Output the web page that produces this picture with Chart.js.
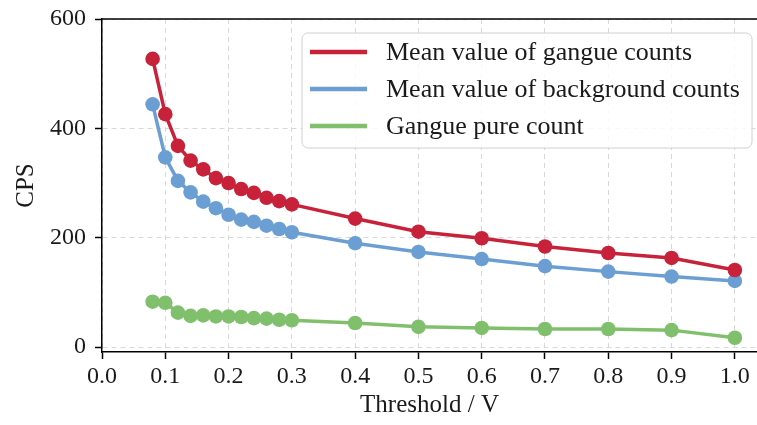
<!DOCTYPE html>
<html>
<head>
<meta charset="utf-8">
<script src="https://cdn.jsdelivr.net/npm/chart.js@4/dist/chart.umd.min.js"></script>
<style>
  html, body { margin: 0; padding: 0; background: #fff; }
  #wrap { width: 757px; height: 425px; }
</style>
</head>
<body>
<div id="wrap"><canvas id="cpsChart" width="757" height="425"></canvas></div>
<script>
// --- DATA ---
const thresholds = [0.08, 0.10, 0.12, 0.14, 0.16, 0.18, 0.20, 0.22, 0.24, 0.26, 0.28, 0.30, 0.4, 0.5, 0.6, 0.7, 0.8, 0.9, 1.0];
const gangueMean = [527, 426, 368, 341, 325, 309, 300, 289, 282, 273, 267, 261, 235, 211, 199, 184, 172, 163, 141];
const backgroundMean = [444, 347, 304, 283, 266, 254, 242, 233, 229, 222, 216, 210, 190, 174, 161, 148, 138, 129, 121];
const ganguePure = [83, 81, 63, 57, 58, 56, 56, 55, 53, 52, 50, 49, 44, 37, 35, 33, 33, 31, 17];
const xTicks = [0.0, 0.1, 0.2, 0.3, 0.4, 0.5, 0.6, 0.7, 0.8, 0.9, 1.0];
const yTicks = [0, 200, 400, 600];
const seriesNames = ['Mean value of gangue counts', 'Mean value of background counts', 'Gangue pure count'];
const seriesColors = ['#c8223a', '#6b9fd4', '#80c06d'];

const FONT = "'Liberation Serif', 'Times New Roman', serif";
const TEXT = '#1a1a1a';

function toPoints(vals) {
    return thresholds.map((x, i) => ({ x: x, y: vals[i] }));
}

const seriesValues = [gangueMean, backgroundMean, ganguePure];
const datasets = seriesValues.map((vals, i) => ({
    label: seriesNames[i],
    data: toPoints(vals),
    borderColor: seriesColors[i],
    backgroundColor: seriesColors[i],
    borderWidth: 3.5,
    pointRadius: 7.3,
    pointHoverRadius: 7.3,
    pointBorderWidth: 0,
    tension: 0
}));

// top spine + legend box in the upper right
const framePlugin = {
    id: 'frame',
    afterDraw(chart) {
        const { ctx, chartArea } = chart;
        ctx.save();
        ctx.strokeStyle = '#000';
        ctx.lineWidth = 1.5;
        ctx.beginPath();
        ctx.moveTo(chartArea.left, chartArea.top);
        ctx.lineTo(chartArea.right, chartArea.top);
        ctx.stroke();

        // legend
        const bx = 302, by = 33, bw = 450, bh = 115, r = 6;
        ctx.fillStyle = 'rgba(255,255,255,0.85)';
        ctx.strokeStyle = '#d0d0d0';
        ctx.lineWidth = 1;
        ctx.beginPath();
        ctx.roundRect(bx, by, bw, bh, r);
        ctx.fill();
        ctx.stroke();
        ctx.font = '26px ' + FONT;
        ctx.textBaseline = 'middle';
        ctx.fillStyle = TEXT;
        chart.data.datasets.forEach((ds, i) => {
            const yy = by + 19 + i * 37;
            ctx.strokeStyle = ds.borderColor;
            ctx.lineWidth = 4.5;
            ctx.beginPath();
            ctx.moveTo(bx + 8, yy);
            ctx.lineTo(bx + 65, yy);
            ctx.stroke();
            ctx.fillText(ds.label, bx + 84, yy + 1);
        });
        ctx.restore();
    }
};

new Chart(document.getElementById('cpsChart'), {
    type: 'line',
    data: { datasets: datasets },
    options: {
        responsive: false,
        animation: false,
        layout: { autoPadding: false, padding: { top: 19, right: 0, left: 0, bottom: 0 } },
        plugins: {
            legend: { display: false },
            tooltip: { enabled: false }
        },
        scales: {
            x: {
                type: 'linear',
                min: 0,
                max: 1.035,
                afterBuildTicks: axis => { axis.ticks = xTicks.map(v => ({ value: v })); },
                afterFit: axis => {
                    axis.height = 73;
                    axis.paddingRight = 0;
                    axis.paddingLeft = 0;
                },
                ticks: {
                    color: TEXT,
                    font: { family: FONT, size: 24 },
                    padding: 3,
                    maxRotation: 0,
                    callback: v => v.toFixed(1)
                },
                grid: { color: '#d8d8d8', lineWidth: 1, tickColor: '#000', tickLength: 7, tickWidth: 1.5 },
                border: { display: true, color: '#000', width: 1.5, dash: [5, 4] },
                title: { display: true, text: 'Threshold / V', color: TEXT, font: { family: FONT, size: 25 }, padding: { top: 2, bottom: 5 } }
            },
            y: {
                min: -9,
                max: 600,
                afterBuildTicks: axis => { axis.ticks = yTicks.map(v => ({ value: v })); },
                afterFit: axis => {
                    axis.width = 102;
                    axis.paddingTop = 0;
                    axis.paddingBottom = 0;
                },
                ticks: {
                    color: TEXT,
                    font: { family: FONT, size: 24 },
                    padding: 9
                },
                grid: { color: '#d8d8d8', lineWidth: 1, tickColor: '#000', tickLength: 7, tickWidth: 1.5 },
                border: { display: true, color: '#000', width: 1.5, dash: [5, 4] },
                title: { display: true, text: 'CPS', color: TEXT, font: { family: FONT, size: 25 }, padding: { top: 11, bottom: 2 } }
            }
        }
    },
    plugins: [framePlugin]
});
</script>
</body>
</html>
